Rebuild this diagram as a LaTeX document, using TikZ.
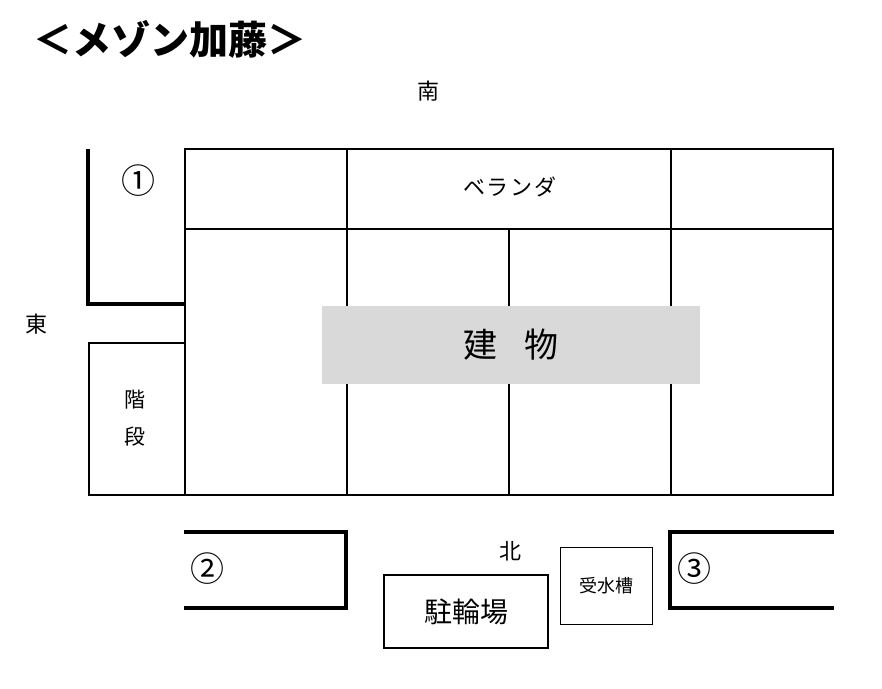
\documentclass[tikz,border=0pt]{standalone}
\usepackage{fontspec}
\setmainfont{Noto Sans CJK JP}
\tikzset{
  wall/.style={draw=black,line width=1.7pt},
  thick wall/.style={draw=black,line width=3.6pt},
  label/.style={inner sep=0pt,font=\fontsize{22}{22}\selectfont},
  number/.style={inner sep=0pt,font=\fontsize{34}{34}\selectfont},
}
\begin{document}
\begin{tikzpicture}[x=1pt,y=-1pt,line join=miter]
  \useasboundingbox (0,0) rectangle (882,688);
  \node[inner sep=0pt,font=\fontsize{39}{39}\selectfont\bfseries] (title) at (170,39) {＜メゾン加藤＞};
  \node[label] (south) at (428,91) {南};
  \node[label] (east) at (36,324) {東};
  \node[label] (north) at (510,551) {北};
  % building
  \coordinate (nw) at (185,149);
  \coordinate (se) at (833,495);
  \draw[wall] (nw) rectangle (se);
  \draw[wall] (185,229) -- (833,229);
  \draw[wall] (347,149) -- (347,495);
  \draw[wall] (671,149) -- (671,495);
  \draw[wall] (509,229) -- (509,495);
  \node[label] (veranda) at (510,187) {ベ\hspace{2pt}ラ\hspace{2pt}ン\hspace{2pt}ダ};
  \node[fill=black!15,minimum width=378pt,minimum height=78pt,inner sep=0pt,font=\fontsize{34}{34}\selectfont] (bldg) at (511,345) {建\hspace{28pt}物};
  % stairs
  \coordinate (stairs nw) at (89,343);
  \coordinate (stairs se) at (185,495);
  \draw[wall] (stairs nw) rectangle (stairs se);
  \node[label,align=center,font=\fontsize{21}{37}\selectfont] (stairs) at (135,418) {階\\段};
  % parking areas
  \draw[thick wall] (88,149) -- (88,304) -- (185,304);
  \node[number] (one) at (138,181) {①};
  \draw[thick wall] (184,532) -- (346,532) -- (346,608) -- (184,608);
  \node[number] (two) at (207,569) {②};
  \draw[thick wall] (834,532) -- (670,532) -- (670,608) -- (834,608);
  \node[number] (three) at (694,569) {③};
  % bike shed, tank
  \node[wall,minimum width=164pt,minimum height=73pt,inner sep=0pt,font=\fontsize{28}{28}\selectfont] (bike) at (466,611.5) {駐輪場};
  \node[draw=black,line width=0.8pt,minimum width=92pt,minimum height=77pt,inner sep=0pt,font=\fontsize{18}{18}\selectfont] (tank) at (606,586) {受水槽};
\end{tikzpicture}
\end{document}
